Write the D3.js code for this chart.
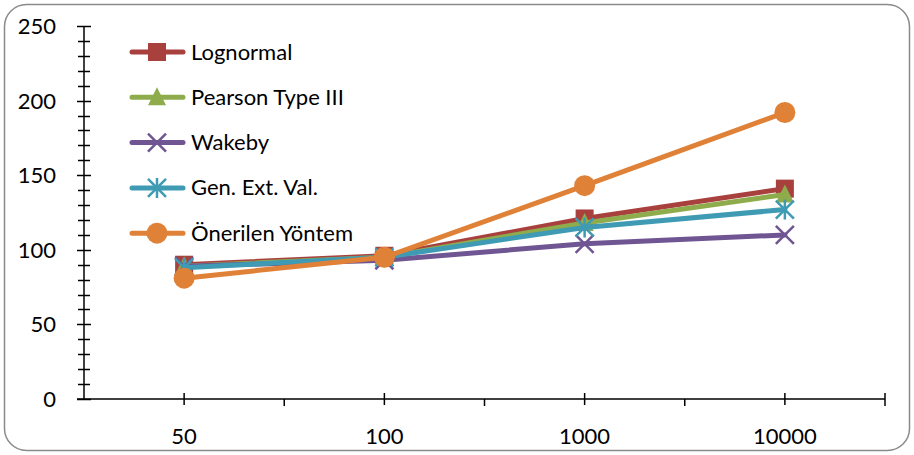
<!DOCTYPE html>
<html>
<head>
<meta charset="utf-8">
<script src="https://cdn.jsdelivr.net/npm/d3@7"></script>
<style>
  body { margin: 0; background: #fff; }
  text { font-family: Lato, "Open Sans", sans-serif; fill: #000; }
</style>
</head>
<body>
<script>
// chart values
var categories = ['50', '100', '1000', '10000'];
var seriesNames = ['Lognormal', 'Pearson Type III', 'Wakeby', 'Gen. Ext. Val.', 'Önerilen Yöntem'];
var lognormal = [90, 96, 121, 141];
var pearson = [89, 95, 118, 137];
var wakeby = [89, 93, 104, 110];
var gev = [88, 95, 115, 127];
var onerilen = [81, 95, 143, 192];
var yTicks = [0, 50, 100, 150, 200, 250];

var series = [
  {name: seriesNames[0], values: lognormal, color: '#A8413E', marker: 'square'},
  {name: seriesNames[1], values: pearson, color: '#8EAC4C', marker: 'triangle'},
  {name: seriesNames[2], values: wakeby, color: '#6F5592', marker: 'cross'},
  {name: seriesNames[3], values: gev, color: '#3F9BB3', marker: 'star'},
  {name: seriesNames[4], values: onerilen, color: '#E08138', marker: 'circle'}
];

var W = 914, H = 455;
var svg = d3.select('body').append('svg').attr('width', W).attr('height', H);

// rounded chart border
svg.append('rect')
  .attr('x', 4.5).attr('y', 4.5)
  .attr('width', W - 9).attr('height', H - 9)
  .attr('rx', 22).attr('ry', 22)
  .attr('fill', '#fff').attr('stroke', '#8a8a8a').attr('stroke-width', 1.5);

var plotLeft = 84, plotRight = 885, plotTop = 26, plotBottom = 399;

var x = d3.scaleBand().domain(categories).range([plotLeft, plotRight]);
var y = d3.scaleLinear().domain([0, 250]).range([plotBottom, plotTop]);
var cx = function (c) { return x(c) + x.bandwidth() / 2; };

var axes = svg.append('g').attr('stroke', '#000').attr('stroke-width', 1.5);

// y axis with minor ticks every 10
axes.append('line').attr('x1', plotLeft).attr('x2', plotLeft).attr('y1', y(250)).attr('y2', y(0));
axes.selectAll('.ytick').data(d3.range(0, 251, 10)).enter().append('line')
  .attr('x1', function (d) { return d % 50 === 0 ? plotLeft - 7 : plotLeft - 6; })
  .attr('x2', function (d) { return d % 50 === 0 ? plotLeft + 7 : plotLeft + 6; })
  .attr('y1', function (d) { return Math.round(y(d)) + 0.5; })
  .attr('y2', function (d) { return Math.round(y(d)) + 0.5; });

svg.selectAll('.ylab').data(yTicks).enter().append('text')
  .attr('x', 56).attr('y', function (d) { return y(d) + 8; })
  .attr('text-anchor', 'end').style('font-size', '22px')
  .text(function (d) { return d; });

// x axis
axes.append('line').attr('x1', plotLeft - 7).attr('x2', plotRight).attr('y1', plotBottom).attr('y2', plotBottom);
axes.selectAll('.xtick').data(categories).enter().append('line')
  .attr('x1', cx).attr('x2', cx).attr('y1', plotBottom - 6).attr('y2', plotBottom + 6);
axes.selectAll('.xbound').data(categories.slice(1)).enter().append('line')
  .attr('x1', function (d) { return x(d); }).attr('x2', function (d) { return x(d); })
  .attr('y1', plotBottom).attr('y2', plotBottom + 7);
axes.append('line').attr('x1', plotRight).attr('x2', plotRight).attr('y1', plotBottom - 6).attr('y2', plotBottom + 7);

svg.selectAll('.xlab').data(categories).enter().append('text')
  .attr('x', cx).attr('y', 444)
  .attr('text-anchor', 'middle').style('font-size', '22px')
  .text(function (d) { return d; });

// marker drawing
function drawMarker(g, type, color, px, py) {
  if (type === 'square') {
    g.append('rect').attr('x', px - 9).attr('y', py - 9).attr('width', 18).attr('height', 18)
      .attr('fill', color);
  } else if (type === 'triangle') {
    g.append('path').attr('d', 'M' + px + ',' + (py - 10) + 'L' + (px + 9) + ',' + (py + 8) + 'L' + (px - 9) + ',' + (py + 8) + 'Z')
      .attr('fill', color);
  } else if (type === 'cross') {
    g.append('path').attr('d', 'M' + (px - 9) + ',' + (py - 9) + 'L' + (px + 9) + ',' + (py + 9) + 'M' + (px + 9) + ',' + (py - 9) + 'L' + (px - 9) + ',' + (py + 9))
      .attr('stroke', color).attr('stroke-width', 2.5).attr('fill', 'none');
  } else if (type === 'star') {
    g.append('path').attr('d', 'M' + (px - 9) + ',' + (py - 9) + 'L' + (px + 9) + ',' + (py + 9) + 'M' + (px + 9) + ',' + (py - 9) + 'L' + (px - 9) + ',' + (py + 9) + 'M' + px + ',' + (py - 10) + 'L' + px + ',' + (py + 10))
      .attr('stroke', color).attr('stroke-width', 2.5).attr('fill', 'none');
  } else {
    g.append('circle').attr('cx', px).attr('cy', py).attr('r', 10.5).attr('fill', color);
  }
}

var line = d3.line()
  .x(function (d, i) { return cx(categories[i]); })
  .y(function (d) { return y(d); });

series.forEach(function (s) {
  var g = svg.append('g');
  g.append('path').attr('d', line(s.values))
    .attr('fill', 'none').attr('stroke', s.color).attr('stroke-width', 5)
    .attr('stroke-linecap', 'round').attr('stroke-linejoin', 'round');
  s.values.forEach(function (v, i) {
    drawMarker(g, s.marker, s.color, cx(categories[i]), y(v));
  });
});

// legend
series.forEach(function (s, i) {
  var ly = 52 + i * 45.3;
  var g = svg.append('g');
  g.append('line').attr('x1', 132).attr('x2', 183).attr('y1', ly).attr('y2', ly)
    .attr('stroke', s.color).attr('stroke-width', 5).attr('stroke-linecap', 'round');
  drawMarker(g, s.marker, s.color, 157, ly);
  g.append('text').attr('x', 191).attr('y', ly + 7.5).style('font-size', '22px').text(s.name);
});
</script>
</body>
</html>
